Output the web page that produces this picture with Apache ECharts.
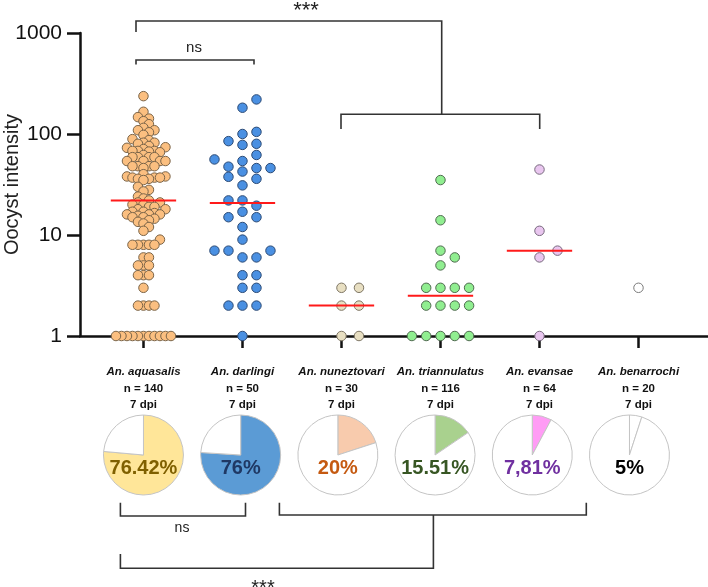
<!DOCTYPE html>
<html><head><meta charset="utf-8">
<script src="https://cdn.jsdelivr.net/npm/echarts@6/dist/echarts.min.js"></script>
<style>html,body{margin:0;padding:0;background:#fff}#c{width:708px;height:587px}</style>
</head><body><div id="c"></div>
<script>
// ---------------- DATA ----------------
const categories = ['An. aquasalis', 'An. darlingi', 'An. nuneztovari', 'An. triannulatus', 'An. evansae', 'An. benarrochi'];
const sampleSizes = [140, 50, 30, 116, 64, 20];
const dpiLabels = ['7 dpi', '7 dpi', '7 dpi', '7 dpi', '7 dpi', '7 dpi'];
const yTickValues = [1, 10, 100, 1000];

const aquasalis = [237, 166, 147, 142, 134, 125, 115, 109, 109, 104,
  98, 89, 87, 82, 82, 80,
  76, 74, 73, 71, 68, 68, 68, 67, 66,
  62, 59, 59, 59, 59,
  54, 54, 54, 54,
  48, 48, 48, 48, 46,
  40, 38, 38, 37, 37, 37, 36, 36, 35,
  30, 28, 27, 24, 23, 22,
  21, 21, 20, 20, 19, 19, 18, 18, 17, 17,
  16.5, 16, 16, 16, 15.5, 15, 15, 14.5, 14, 13.5, 13,
  12, 11, 9, 8, 8, 8, 8, 8, 6, 6, 5, 5, 5, 4, 4, 4, 3, 2, 2, 2, 2,
  1, 1, 1, 1, 1, 1, 1, 1, 1, 1, 1];
const darlingi = [220, 182, 105, 100, 85, 80, 78, 62, 56, 54,
  47.5, 46, 46, 42.5, 37.7, 36, 31,
  22, 22, 19.5, 17, 15, 15, 12, 9,
  7, 7, 7, 6, 6, 4, 4, 3, 3, 2, 2, 2, 1];
const nuneztovari = [3, 3, 2, 2, 1, 1];
const triannulatus = [35, 14, 7, 6, 5, 3, 3, 3, 3, 2, 2, 2, 2, 1, 1, 1, 1, 1];
const evansae = [44.5, 11, 7, 6, 1];
const benarrochi = [3];

const prevalence = [76.42, 76, 20, 15.51, 7.81, 5];
const prevalenceLabels = ['76.42%', '76%', '20%', '15.51%', '7,81%', '5%'];

const groups = [aquasalis, darlingi, nuneztovari, triannulatus, evansae, benarrochi];

// ---------------- STYLE ----------------
const FONT = '"Liberation Sans", Arial, sans-serif';
const dotFill = ['#fbbf80', '#4a90e2', '#e8dfc2', '#90ee90', '#e9c6ef', '#ffffff'];
const dotBorder = ['#7a6448', '#2c4a74', '#7d7564', '#4f6a4f', '#76687c', '#7a7a7a'];
const pieFill = ['#ffe699', '#5b9bd5', '#f8cbad', '#a9d18e', '#ff9cf5', '#ffffff'];
const pctColor = ['#7f6000', '#1f3864', '#c55a11', '#375623', '#7030a0', '#000000'];
const swarmStep = [5.5, 14, 17.5, 14.3, 18, 14];
const swarmMaxOff = [27.6, 28.5, 18, 29, 18, 18];
const swarmMinDist = [5.4, 10, 10, 10, 10, 10];

const chart = echarts.init(document.getElementById('c'), null, {renderer: 'canvas'});

const catIdx = categories.map((c, i) => i);

const baseOption = {
  animation: false,
  grid: {left: 80, right: 0, top: 33, bottom: 251, containLabel: false, outerBoundsMode: 'none'},
  xAxis: {
    type: 'value', min: -0.641, max: 5.702,
    axisLine: {show: true, onZero: false, lineStyle: {color: '#111', width: 2.5}},
    splitLine: {show: false},
    axisTick: {show: true, customValues: catIdx, length: 12, lineStyle: {color: '#111', width: 2.5}},
    axisLabel: {
      show: true, customValues: catIdx, margin: 28, color: '#111',
      formatter: v => {
        const i = Math.round(v);
        return '{sp|' + categories[i] + '}\n{b|n = ' + sampleSizes[i] + '}\n{b|' + dpiLabels[i] + '}';
      },
      rich: {
        sp: {fontFamily: FONT, fontStyle: 'italic', fontWeight: 'bold', fontSize: 11.5, lineHeight: 16.5, color: '#111'},
        b: {fontFamily: FONT, fontWeight: 'bold', fontSize: 11.5, lineHeight: 16.5, color: '#111'}
      }
    }
  },
  yAxis: {
    type: 'log', logBase: 10, min: yTickValues[0], max: yTickValues[yTickValues.length - 1],
    name: 'Oocyst intensity', nameLocation: 'middle', nameGap: 58, nameMoveOverlap: false,
    nameTextStyle: {fontFamily: FONT, fontSize: 20, color: '#222'},
    axisLine: {show: true, onZero: false, lineStyle: {color: '#111', width: 2.5}},
    axisTick: {show: true, length: 13, lineStyle: {color: '#111', width: 2.5}},
    minorTick: {show: false},
    splitLine: {show: false},
    axisLabel: {fontFamily: FONT, fontSize: 21, color: '#111', margin: 18, formatter: v => String(v)}
  },
  series: []
};
chart.setOption(baseOption);

const toPx = (x, y) => chart.convertToPixel({gridIndex: 0}, [x, y]);
const unitPx = toPx(1, 1)[0] - toPx(0, 1)[0];

function swarm(values, gi) {
  const s = swarmStep[gi], maxOff = swarmMaxOff[gi], minD = swarmMinDist[gi];
  const idx = values.map((v, i) => i).sort((a, b) => values[a] - values[b]);
  const py = values.map(v => toPx(gi, v)[1]);
  const off = new Array(values.length);
  const placed = [];
  idx.forEach(i => {
    let best = null, bestD = -1, bestO = 0;
    for (let m = 0; ; m++) {
      const o = m === 0 ? 0 : (m % 2 ? Math.ceil(m / 2) * s : -Math.ceil(m / 2) * s);
      if (Math.abs(o) > maxOff + 0.01) break;
      let d = Infinity;
      for (const p of placed) d = Math.min(d, Math.hypot(p[0] - o, p[1] - py[i]));
      if (d >= minD) { best = o; break; }
      if (d > bestD + 0.01) { bestD = d; bestO = o; }
    }
    off[i] = best !== null ? best : bestO;
    placed.push([off[i], py[i]]);
  });
  return off;
}

function median(arr) {
  const a = arr.slice().sort((x, y) => x - y);
  const n = a.length;
  return n % 2 ? a[(n - 1) / 2] : (a[n / 2 - 1] + a[n / 2]) / 2;
}

const series = [];
groups.forEach((vals, gi) => {
  const off = swarm(vals, gi);
  series.push({
    type: 'scatter', z: 3,
    symbol: 'circle', symbolSize: 9.5,
    itemStyle: {color: dotFill[gi], borderColor: dotBorder[gi], borderWidth: 1, opacity: 1},
    emphasis: {disabled: true}, silent: true,
    data: vals.map((v, i) => [gi + off[i] / unitPx, v])
  });
});

const medianData = groups.map((g, i) => g.length > 1 ? [i, median(g)] : null).filter(d => d);
series.push({
  type: 'custom', z: 6, silent: true, clip: false,
  renderItem: (params, api) => {
    const c = api.value(0), m = api.value(1);
    const p1 = api.coord([c - 0.33, m]), p2 = api.coord([c + 0.33, m]);
    return {type: 'line', shape: {x1: p1[0], y1: p1[1], x2: p2[0], y2: p2[1]}, style: {stroke: '#ff1a1a', lineWidth: 2}};
  },
  data: medianData
});

const pieX0 = toPx(0, 1)[0];
prevalence.forEach((p, i) => {
  series.push({
    type: 'pie', center: [pieX0 + i * 97.2, 455], radius: 40,
    startAngle: 90, clockwise: true, silent: true, avoidLabelOverlap: false,
    emphasis: {disabled: true},
    labelLine: {show: false},
    itemStyle: {borderColor: '#c4c4c4', borderWidth: 1},
    data: [
      {value: p, itemStyle: {color: pieFill[i]},
       label: {show: true, position: 'center', formatter: '\u00a0\n' + prevalenceLabels[i], fontFamily: FONT,
               fontWeight: 'bold', fontSize: 20, lineHeight: 26, color: pctColor[i]}},
      {value: 100 - p, itemStyle: {color: '#ffffff'}, label: {show: false}}
    ]
  });
});

const LC = '#333';
const line = pts => ({type: 'polyline', shape: {points: pts}, style: {stroke: LC, lineWidth: 1.6, fill: null}, silent: true});
const txt = (x, y, s, size) => ({type: 'text', x: x, y: y, silent: true,
  style: {text: s, fontFamily: FONT, fontSize: size, fill: '#222', textAlign: 'center', textVerticalAlign: 'middle'}});

const graphic = [
  line([[136, 32], [136, 21], [441.7, 21], [441.7, 114.3]]),
  line([[341, 129], [341, 114.3], [539.7, 114.3], [539.7, 129]]),
  line([[136, 64.5], [136, 60], [254, 60], [254, 64.5]]),
  txt(306, 11, '***', 22),
  txt(194, 48, 'ns', 15),
  line([[120.4, 502.7], [120.4, 516], [245.5, 516], [245.5, 502.7]]),
  line([[279.4, 502.7], [279.4, 515], [586.3, 515], [586.3, 502.7]]),
  line([[433.4, 515], [433.4, 568.3], [120.4, 568.3], [120.4, 554]]),
  txt(182, 528, 'ns', 14),
  txt(263, 588, '***', 20)
];

chart.setOption({series: series, graphic: graphic});
</script>
</body></html>
